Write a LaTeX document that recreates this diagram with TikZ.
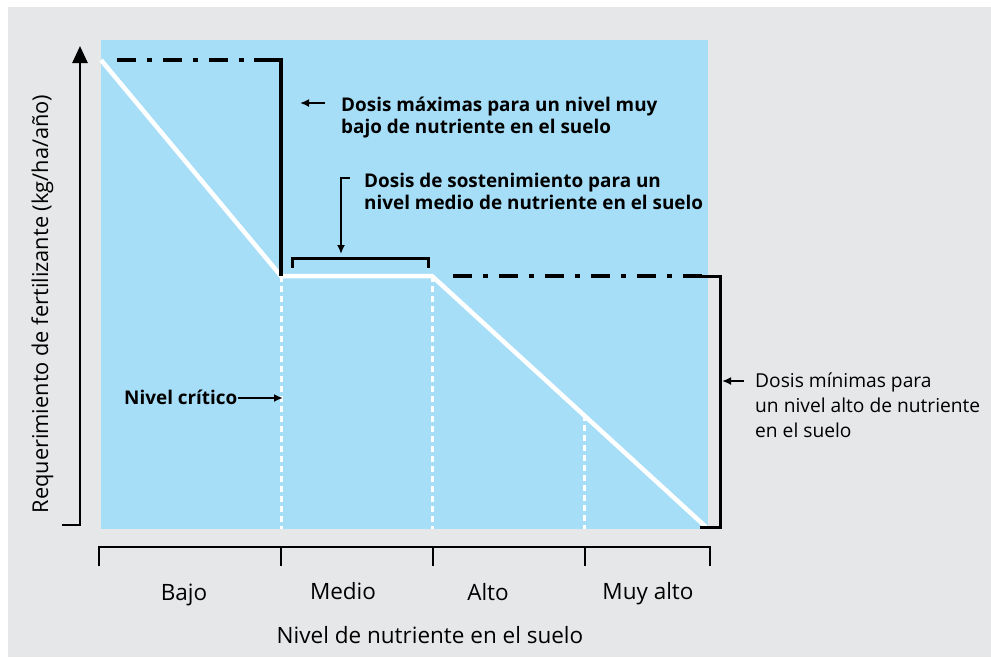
\documentclass[tikz,border=0pt]{standalone}
\usepackage{fontspec}
\setmainfont{Open Sans}
\usetikzlibrary{arrows.meta}
\definecolor{fondo}{RGB}{230,231,232}
\definecolor{celeste}{RGB}{166,222,248}
\begin{document}
\begin{tikzpicture}[x=1pt,y=-1pt,
  negro/.style={draw=black,line width=3pt},
  rayapunto/.style={draw=black,line width=4pt,dash pattern=on 19pt off 11pt on 5pt off 11pt},
  curva/.style={draw=white,line width=4.5pt},
  limite/.style={draw=white,line width=3pt,dash pattern=on 6pt off 4pt},
  flecha/.style={draw=black,line width=2pt,-{Latex[length=9pt,width=8pt]}},
  nota/.style={font=\bfseries\fontsize{18.9}{21.5}\selectfont,align=left,anchor=base west,inner sep=0pt},
  notafina/.style={font=\fontsize{19.2}{25}\selectfont,align=left,anchor=base west,inner sep=0pt},
  rotulo/.style={font=\fontsize{22.5}{24}\selectfont,anchor=base,inner sep=0pt}]
\def\ytop{60}
\def\yc{276}
\def\ybot{529}
\useasboundingbox (0,0) rectangle (991,657);
\fill[fondo] (8,7) rectangle (991,657);
\fill[celeste] (101,40) rectangle (708,\ybot);
% curva de requerimiento
\coordinate (p0) at (101,\ytop);
\coordinate (p1) at (281,\yc);
\coordinate (p2) at (432,\yc);
\coordinate (p3) at (706,527);
\coordinate (p4) at (584,415);
\draw[limite] (p1) -- (p1 |- 0,\ybot);
\draw[limite] (p2) -- (p2 |- 0,\ybot);
\draw[limite] (p4) -- (p4 |- 0,\ybot);
\draw[curva] (p0) -- (p1) -- (p2) -- (p3);
% dosis maxima
\draw[rayapunto] (117,\ytop) -- (262,\ytop);
\draw[negro,line width=3.5pt] (254,\ytop) -- (281,\ytop) -- (p1);
% dosis minima
\draw[rayapunto] (453,\yc) -- (702,\yc);
\draw[negro] (698,\yc) -- (720,\yc) -- (720,527) -- (700,527);
% sostenimiento
\draw[negro] (292,268) -- (292,258) -- (428,258) -- (428,268);
% ejes
\coordinate (origen) at (80,525);
\coordinate (ytip) at (80,46);
\draw[line width=2.5pt,-{Triangle[length=17pt,width=15pt]}] (62,525) -- (origen) -- (ytip);
\draw[line width=2.5pt] (99,566) -- (99,547) -- (710,547) -- (710,566);
\foreach \x in {281,433,585}
  \draw[line width=2.5pt] (\x,547) -- (\x,566);
% textos
\node[nota] (notaMax) at (341,133) {Dosis máximas para un nivel muy\\bajo de nutriente en el suelo};
\node[nota] (notaSost) at (364,209) {Dosis de sostenimiento para un\\nivel medio de nutriente en el suelo};
\node[nota] (notaCrit) at (124,404) {Nivel crítico};
\node[notafina] (notaMin) at (755,437) {Dosis mínimas para\\un nivel alto de nutriente\\en el suelo};
\node[rotulo] (bajo) at (184,600) {Bajo};
\node[rotulo] (medio) at (343,599) {Medio};
\node[rotulo] (alto) at (488,600) {Alto};
\node[rotulo] (muyalto) at (648,599) {Muy alto};
\node[rotulo] (ejeX) at (430,643) {Nivel de nutriente en el suelo};
\node[rotulo,font=\fontsize{21.8}{24}\selectfont,rotate=90] (ejeY) at (48,304) {Requerimiento de fertilizante (kg/ha/año)};
% flechas
\coordinate (maxA) at (325,103);
\coordinate (maxB) at (300,103);
\draw[flecha] (maxA) -- (maxB);
\coordinate (sostA) at (350,178);
\coordinate (sostB) at (341,178);
\coordinate (sostC) at (341,254);
\draw[flecha] (sostA) -- (sostB) -- (sostC);
\coordinate (critico) at (283,398);
\draw[flecha] (notaCrit.east |- critico) -- (critico);
\coordinate (minA) at (744,381);
\coordinate (minB) at (722,381);
\draw[flecha] (minA) -- (minB);
\end{tikzpicture}
\end{document}
